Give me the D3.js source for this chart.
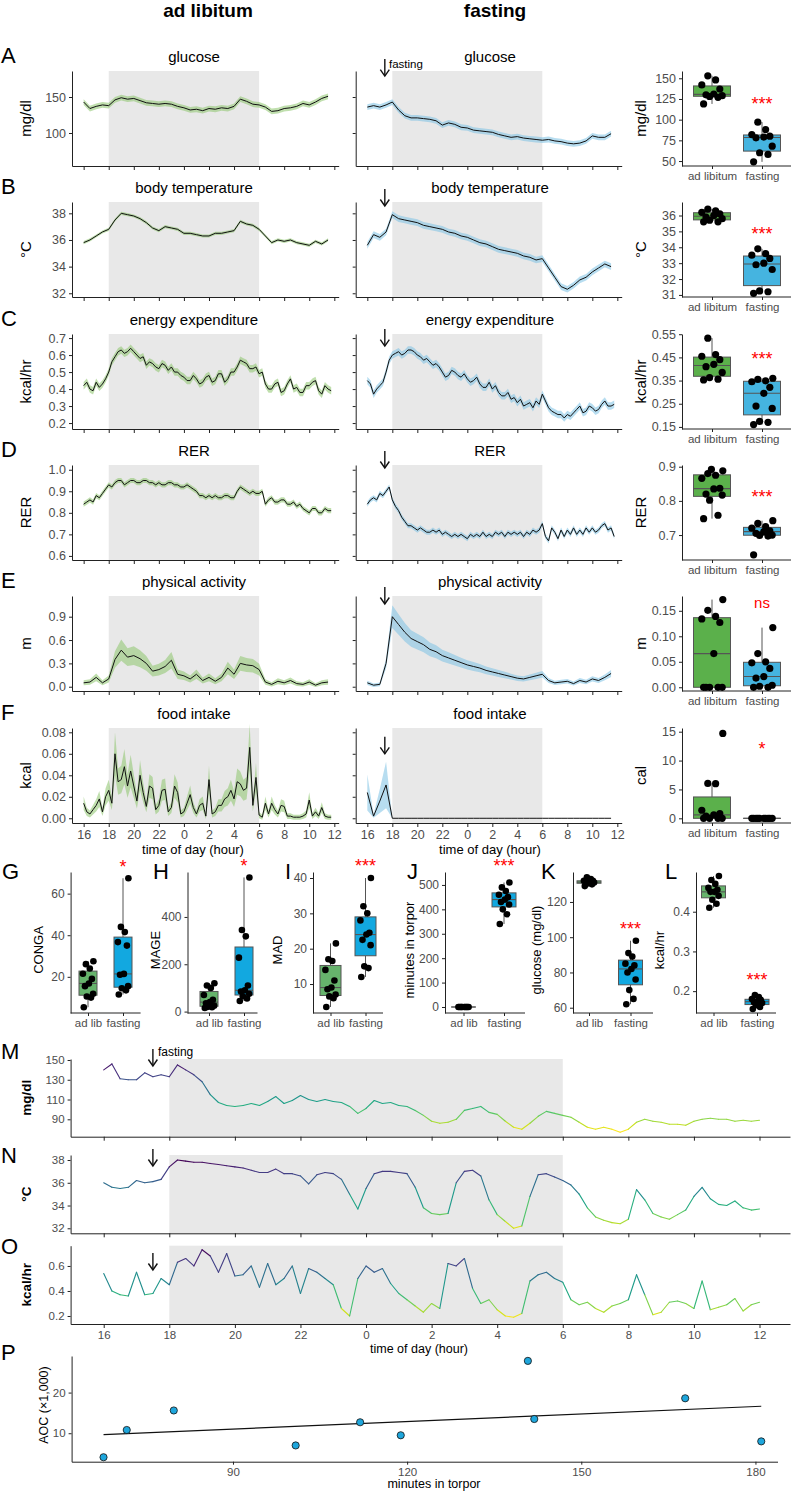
<!DOCTYPE html>
<html>
<head>
<meta charset="utf-8">
<script src="https://cdn.jsdelivr.net/npm/d3@7"></script>
<style>
  body { margin: 0; background: #fff; }
</style>
</head>
<body>
<script>
// ---------- data ----------

// time grids for panels A-F (hours since midnight of day 1)
var hours = d3.range(16, 36, 0.5);     // 40 points, half hour steps
var hoursQ = d3.range(16, 36, 0.25);   // 80 points, quarter hour steps
// time grid for the single animal traces M-O
var hoursFine = d3.range(16, 36.01, 0.25);

// A glucose (mg/dl)
var glucAd = [143,134,137,139,138,146,149,147,148,145,142,141,140,141,140,137,135,132,133,131,
              134,133,135,134,137,147,144,140,139,136,130,131,134,135,137,141,139,143,148,151];
var glucFa = [136,138,136,139,143,132,124,121,121,120,119,117,111,114,112,108,107,104,103,102,
              101,98,96,94,95,93,92,91,90,91,89,88,86,85,86,89,96,94,94,99];
// B body temperature (°C)
var tempAd = [35.8,36.0,36.3,36.6,36.8,37.5,38.0,37.9,37.8,37.6,37.3,36.9,36.7,37.0,36.9,36.8,36.5,36.5,36.4,36.3,
              36.3,36.5,36.5,36.6,36.7,37.4,37.2,37.1,36.8,36.3,35.8,36.0,35.9,36.0,35.8,35.7,35.6,35.9,35.7,36.0];
var tempFa = [35.6,36.4,36.2,36.6,37.9,37.6,37.5,37.4,37.3,37.1,37.0,36.9,36.8,36.6,36.5,36.3,36.2,36.0,35.8,35.7,
              35.5,35.3,35.2,35.1,35.0,34.8,34.7,34.5,34.6,33.9,33.2,32.5,32.3,32.6,33.0,33.2,33.6,33.9,34.2,34.0];
// C energy expenditure (kcal/hr), quarter hours
var eeAd = [0.42,0.44,0.40,0.39, 0.44,0.41,0.43,0.46, 0.50,0.56,0.59,0.62, 0.63,0.61,0.62,0.64, 0.62,0.60,0.58,0.59,
            0.54,0.56,0.55,0.53, 0.52,0.55,0.54,0.51, 0.53,0.50,0.50,0.48, 0.47,0.45,0.45,0.48, 0.46,0.43,0.44,0.47,
            0.48,0.44,0.45,0.49, 0.49,0.44,0.46,0.50, 0.50,0.53,0.57,0.56, 0.55,0.52,0.52,0.53, 0.49,0.50,0.43,0.40,
            0.40,0.43,0.44,0.38, 0.39,0.43,0.46,0.40, 0.41,0.38,0.38,0.42, 0.42,0.44,0.45,0.39, 0.37,0.42,0.40,0.39];
var eeFa = [0.45,0.43,0.37,0.40, 0.42,0.44,0.50,0.57, 0.60,0.61,0.62,0.60, 0.61,0.63,0.63,0.62, 0.60,0.59,0.57,0.58,
            0.56,0.54,0.55,0.53, 0.50,0.47,0.48,0.51, 0.50,0.48,0.47,0.49, 0.46,0.44,0.45,0.47, 0.43,0.41,0.41,0.44,
            0.40,0.42,0.38,0.36, 0.36,0.38,0.34,0.35, 0.32,0.34,0.30,0.31, 0.32,0.29,0.33,0.31, 0.37,0.33,0.29,0.27,
            0.26,0.25,0.25,0.23, 0.25,0.24,0.26,0.28, 0.30,0.26,0.27,0.30, 0.29,0.27,0.28,0.31, 0.33,0.30,0.30,0.31];
// D RER, quarter hours
var rerAd = [0.84,0.85,0.86,0.85, 0.88,0.87,0.89,0.91, 0.93,0.92,0.94,0.95, 0.95,0.93,0.94,0.95, 0.95,0.94,0.94,0.95,
             0.95,0.94,0.94,0.93, 0.94,0.93,0.93,0.94, 0.94,0.93,0.93,0.92, 0.92,0.93,0.92,0.91, 0.90,0.88,0.88,0.87,
             0.88,0.87,0.88,0.87, 0.87,0.88,0.88,0.87, 0.87,0.90,0.92,0.91, 0.90,0.89,0.90,0.89, 0.89,0.90,0.84,0.86,
             0.87,0.85,0.85,0.86, 0.86,0.84,0.84,0.85, 0.83,0.84,0.82,0.81, 0.80,0.82,0.82,0.80, 0.80,0.82,0.81,0.81];
var rerFa = [0.84,0.86,0.87,0.86, 0.89,0.88,0.90,0.92, 0.86,0.83,0.81,0.78, 0.76,0.74,0.74,0.73, 0.72,0.73,0.72,0.71,
             0.71,0.72,0.71,0.72, 0.70,0.71,0.70,0.69, 0.70,0.69,0.70,0.69, 0.68,0.70,0.69,0.70, 0.69,0.71,0.69,0.70,
             0.69,0.71,0.70,0.71, 0.69,0.71,0.70,0.71, 0.70,0.71,0.69,0.71, 0.70,0.72,0.71,0.72, 0.75,0.69,0.67,0.73,
             0.71,0.68,0.72,0.69, 0.72,0.70,0.73,0.70, 0.72,0.70,0.73,0.71, 0.73,0.71,0.72,0.74, 0.75,0.72,0.73,0.69];
// E physical activity (m)
var actAd = [0.05,0.06,0.12,0.05,0.10,0.35,0.47,0.38,0.40,0.36,0.30,0.20,0.22,0.26,0.34,0.16,0.14,0.10,0.16,0.08,
             0.12,0.07,0.12,0.24,0.16,0.30,0.28,0.27,0.22,0.06,0.03,0.07,0.05,0.08,0.04,0.03,0.06,0.02,0.05,0.06];
var actFa = [0.05,0.02,0.03,0.30,0.90,0.80,0.70,0.62,0.58,0.54,0.48,0.45,0.40,0.37,0.34,0.31,0.28,0.26,0.24,0.21,
             0.19,0.17,0.15,0.13,0.11,0.10,0.12,0.14,0.16,0.08,0.05,0.06,0.07,0.04,0.08,0.06,0.10,0.08,0.12,0.17];
// F food intake (kcal), ad libitum in quarter hours
var foodAd = [0.014,0.006,0.004,0.008, 0.012,0.018,0.006,0.020, 0.026,0.014,0.060,0.034, 0.036,0.048,0.030,0.044,
              0.030,0.016,0.040,0.024, 0.011,0.030,0.028,0.008, 0.012,0.026,0.027,0.006, 0.010,0.030,0.024,0.004,
              0.006,0.014,0.022,0.010, 0.004,0.012,0.014,0.002, 0.036,0.004,0.006,0.012, 0.012,0.018,0.020,0.026,
              0.018,0.034,0.032,0.026, 0.028,0.066,0.012,0.038, 0.003,0.001,0.014,0.004, 0.014,0.008,0.004,0.012,
              0.011,0.002,0.002,0.001, 0.001,0.001,0.002,0.004, 0.017,0.002,0.006,0.002, 0.010,0.002,0.001,0.001];
var foodFa = [0.024,0.002,0.016,0.031,0,0,0,0,0,0,0,0,0,0,0,0,0,0,0,0,
              0,0,0,0,0,0,0,0,0,0,0,0,0,0,0,0,0,0,0,0];

// right column box plots (per animal averages)
var boxGlucAd = [119,127,128,129,130,131,137,142,148,153];
var boxGlucFa = [49,58,60,68,78,79,80,82,88,97];
var boxTempAd = [35.6,35.6,35.7,35.8,35.9,36.0,36.1,36.2,36.3,36.4];
var boxTempFa = [31.1,31.2,31.25,32.6,32.9,33.0,33.3,33.5,33.6,33.9];
var boxEeAd = [0.353,0.356,0.363,0.385,0.41,0.42,0.44,0.455,0.462,0.533];
var boxEeFa = [0.16,0.17,0.174,0.23,0.24,0.295,0.321,0.345,0.349,0.355,0.36];
var boxRerAd = [0.748,0.758,0.802,0.817,0.82,0.835,0.837,0.866,0.875,0.88,0.888,0.892];
var boxRerFa = [0.642,0.697,0.699,0.70,0.705,0.71,0.712,0.72,0.725,0.734,0.742];
var boxActAd = [0,0,0,0,0,0.066,0.127,0.134,0.139,0.151,0.172];
var boxActFa = [0,0,0.002,0.004,0.018,0.021,0.037,0.048,0.05,0.066,0.117];
var boxFoodAd = [0,0,0,0,0.4,0.6,0.8,1.4,6.0,6.05,14.7];
var boxFoodFa = [0,0,0,0,0,0,0,0,0,0];

// G-L summary box plots
var congaAd = [5.4,10.0,10.5,11.8,15.5,16.8,19.0,21.5,24.0,26.1,27.5];
var congaFa = [11.5,13.5,14.5,15.5,21.0,21.4,35.0,36.7,41.5,44.0,67.4];
var mageAd = [15,18,20,25,35,40,50,70,100,110,120];
var mageFa = [45,55,65,75,85,90,110,228,318,345,567];
var madAd = [3.5,6,6.5,7,8.5,9,11,14,16.5,17,21.5];
var madFa = [12,14.5,15,21,22.5,24,24.5,28,30,32,40];
var torpAd = [0,0,0,0,0,0,0,0,0,0];
var torpFa = [340,380,400,420,430,440,450,460,475,490,510];
var glucMeanAd = [129,130,130.5,131,131,131.5,132,132,133,134];
var glucMeanFa = [62,65,70,76,80,82,84,85,89,91,98];
var eeMeanAd = [0.41,0.42,0.43,0.44,0.45,0.45,0.455,0.46,0.47,0.48,0.49];
var eeMeanFa = [0.155,0.16,0.165,0.17,0.172,0.175,0.178,0.18,0.185,0.19];

// M-O single fasted animal
var traceGluc = [140,146,131,130, 130,137,133,135, 133,145,140,135, 128,115,107,104, 103,104,106,104,
                 108,113,106,109, 114,110,108,110, 108,107,103,96, 101,109,106,107, 104,103,99,94,
                 88,86,87,90, 99,101,103,97, 95,88,82,80, 86,93,98,96, 94,92,87,82,
                 80,82,80,77, 80,87,90,88, 87,85,85,84, 88,90,91,90, 90,88,89,88, 89];
var traceTemp = [36.0,35.6,35.5,35.6, 36.2,36.0,36.1,36.3, 37.4,38.0,37.9,37.8, 37.8,37.7,37.6,37.5, 37.4,37.3,37.1,36.9,
                 36.9,37.2,36.8,36.8, 36.6,35.9,36.7,36.9, 36.8,36.3,35.0,33.7, 35.5,36.8,37.0,37.0, 36.9,36.8,35.6,33.8,
                 33.3,33.2,33.3,36.0, 37.0,37.1,36.6,34.5, 33.2,32.6,32.0,32.2, 34.8,36.7,36.8,36.5, 36.2,35.8,35.0,33.8,
                 33.0,32.7,32.5,32.4, 32.8,35.4,34.5,33.3, 33.0,32.8,33.2,33.6, 34.8,35.6,34.6,34.1, 34.0,34.4,33.8,33.6, 33.7];
var traceEe = [0.54,0.40,0.37,0.36, 0.55,0.37,0.38,0.50, 0.45,0.63,0.66,0.60, 0.73,0.68,0.55,0.70, 0.52,0.53,0.60,0.43,
               0.62,0.45,0.50,0.60, 0.38,0.58,0.55,0.50, 0.45,0.26,0.20,0.50, 0.60,0.55,0.58,0.46, 0.38,0.33,0.28,0.23,
               0.30,0.26,0.62,0.60, 0.66,0.42,0.30,0.33, 0.25,0.20,0.19,0.22, 0.48,0.53,0.55,0.50, 0.47,0.33,0.29,0.31,
               0.26,0.23,0.28,0.30, 0.33,0.53,0.37,0.21, 0.23,0.31,0.32,0.30, 0.26,0.48,0.25,0.27, 0.29,0.34,0.24,0.29, 0.31];

// P torpor duration vs area of the curve
var torporMin = [67.7,71.7,79.8,100.8,111.9,118.9,140.8,141.9,167.9,181.0];
var aocK = [4.1,10.8,15.6,7.0,12.7,9.5,27.8,13.5,18.6,8.0];

// ---------- layout ----------

var svg = d3.select("body").append("svg")
  .attr("width", 792).attr("height", 1492)
  .style("font-family", "'Liberation Sans', Arial, Helvetica, sans-serif");
var NARROW = "'Liberation Sans Narrow', 'Liberation Sans', Arial, sans-serif";

var AXIS = "#222";
var TICKTXT = "#4d4d4d";
var SHADE = "#e8e8e8";
var GREEN = "#5bb04b", BLUE = "#45b4e0";
var GREEN2 = "#66b36c", BLUE2 = "#12a8e0";
var JIT = [-0.7, 0.5, -0.2, 0.85, -0.5, 0.15, 0.65, -0.85, 0.3, -0.35, 0.9, -0.05];

var rowTop = [71, 202, 334, 465, 596, 728];
var rowH = 95;
var smallTop = 872, smallBottom = 1013;

var xAd = d3.scaleLinear().domain([15.07, 36.35]).range([72, 338.7]);
var xFa = d3.scaleLinear().domain([15.07, 36.35]).range([355.7, 621.7]);

var panels = [
  {letter: "A", title: "glucose", ylab: "mg/dl", ad: glucAd, fa: glucFa, dom: [54.2, 186.1], ticks: [100, 150], fmt: "d",
   seAd: [4, 0], seFa: [4, 0], arrow: 179,
   box: {ad: boxGlucAd, fa: boxGlucFa, dom: [44, 158.8], ticks: [50, 75, 100, 125, 150], fmt: "d", ylab: "mg/dl", star: "***", starVal: 122.5}},
  {letter: "B", title: "body temperature", ylab: "°C", ad: tempAd, fa: tempFa, dom: [31.72, 38.85], ticks: [32, 34, 36, 38], fmt: "d",
   seAd: [0.12, 0], seFa: [0.25, 0], arrow: 38.55,
   box: {ad: boxTempAd, fa: boxTempFa, dom: [30.87, 36.85], ticks: [31, 32, 33, 34, 35, 36], fmt: "d", ylab: "°C", star: "***", starVal: 35.0}},
  {letter: "C", title: "energy expenditure", ylab: "kcal/hr", ad: eeAd, fa: eeFa, dom: [0.165, 0.724], ticks: [0.2, 0.3, 0.4, 0.5, 0.6, 0.7], fmt: ".1f",
   seAd: [0.022, 0], seFa: [0.022, 0], arrow: 0.653,
   box: {ad: boxEeAd, fa: boxEeFa, dom: [0.141, 0.551], ticks: [0.15, 0.25, 0.35, 0.45, 0.55], fmt: ".2f", ylab: "kcal/hr", star: "***", starVal: 0.456}},
  {letter: "D", title: "RER", ylab: "RER", ad: rerAd, fa: rerFa, dom: [0.581, 1.022], ticks: [0.6, 0.7, 0.8, 0.9, 1.0], fmt: ".1f",
   seAd: [0.012, 0], seFa: [0.012, 0], arrow: 1.008,
   box: {ad: boxRerAd, fa: boxRerFa, dom: [0.627, 0.905], ticks: [0.7, 0.8, 0.9], fmt: ".1f", ylab: "RER", star: "***", starVal: 0.82}},
  {letter: "E", title: "physical activity", ylab: "m", ad: actAd, fa: actFa, dom: [-0.055, 1.166], ticks: [0, 0.3, 0.6, 0.9], fmt: ".1f",
   seAd: [0.02, 0.25], seFa: [0.02, 0.14], arrow: 1.063,
   box: {ad: boxActAd, fa: boxActFa, dom: [-0.0073, 0.179], ticks: [0, 0.05, 0.10, 0.15], fmt: ".2f", ylab: "m", star: "ns", starVal: 0.165}},
  {letter: "F", title: "food intake", ylab: "kcal", ad: foodAd, fa: foodFa, dom: [-0.0044, 0.084], ticks: [0, 0.02, 0.04, 0.06, 0.08], fmt: ".2f",
   seAd: [0.002, 0.3], seFa: [0, 0.7], arrow: 0.060,
   box: {ad: boxFoodAd, fa: boxFoodFa, dom: [-0.81, 15.64], ticks: [0, 5, 10, 15], fmt: "d", ylab: "cal", star: "*", starVal: 12.4}}
];

var small = [
  {letter: "G", lx: 2, x0: 70.6, c: [88, 123], w: 70, bw: 18, ylab: "CONGA", labx: 43, ad: congaAd, fa: congaFa,
   dom: [2.6, 70.4], ticks: [20, 40, 60], fmt: "d", star: "*", starVal: 74.2},
  {letter: "H", lx: 153, x0: 187.5, c: [209, 244], w: 70, bw: 18, ylab: "MAGE", labx: 160, ad: mageAd, fa: mageFa,
   dom: [-6, 590], ticks: [0, 200, 400], fmt: "d", star: "*", starVal: 624},
  {letter: "I", lx: 285, x0: 313, c: [330.5, 365.5], w: 70, bw: 21, ylab: "MAD", labx: 282, ad: madAd, fa: madFa,
   dom: [1.8, 41.7], ticks: [10, 20, 30, 40], fmt: "d", star: "***", starVal: 44.0},
  {letter: "J", lx: 407, x0: 445, c: [463.5, 504], w: 80, bw: 24, ylab: "minutes in torpor", labx: 414, ad: torpAd, fa: torpFa,
   dom: [-24.6, 553], ticks: [0, 100, 200, 300, 400, 500], fmt: "d", star: "***", starVal: 586},
  {letter: "K", lx: 541, x0: 573, c: [589, 630.5], w: 80, bw: 24, ylab: "glucose (mg/dl)", labx: 541, ad: glucMeanAd, fa: glucMeanFa,
   dom: [57, 137], ticks: [60, 80, 100, 120], fmt: "d", star: "***", starVal: 106},
  {letter: "L", lx: 665, x0: 696, c: [713.5, 757], w: 80, bw: 24, ylab: "kcal/hr", labx: 664, ad: eeMeanAd, fa: eeMeanFa,
   dom: [0.145, 0.50], ticks: [0.2, 0.3, 0.4], fmt: ".1f", star: "***", starVal: 0.235}
];

// ---------- helpers ----------

function txt(x, y, s, o) {
  var t = svg.append("text").attr("x", x).attr("y", y).text(s);
  for (var k in o) t.attr(k, o[k]);
  return t;
}

function vtxt(x, y, s, o) {
  var t = svg.append("text").attr("transform", "translate(" + x + "," + y + ") rotate(-90)")
    .attr("text-anchor", "middle").text(s);
  for (var k in o) t.attr(k, o[k]);
  return t;
}

function styleAxis(g, fs, fam) {
  g.attr("font-family", null).attr("font-size", null);
  g.select(".domain").attr("stroke", AXIS).attr("stroke-width", 1);
  g.selectAll(".tick line").attr("stroke", AXIS);
  g.selectAll(".tick text").attr("fill", TICKTXT).attr("font-size", fs);
  if (fam) g.selectAll(".tick text").attr("font-family", fam);
}

function arrow(x, tip) {
  svg.append("line").attr("x1", x).attr("x2", x).attr("y1", tip - 17).attr("y2", tip)
    .attr("stroke", "#111").attr("stroke-width", 1.4);
  svg.append("path")
    .attr("d", "M" + (x - 4.5) + "," + (tip - 6.5) + "L" + x + "," + tip + "L" + (x + 4.5) + "," + (tip - 6.5))
    .attr("fill", "none").attr("stroke", "#111").attr("stroke-width", 1.4);
}

function timePanel(xs, top, p, vals, se, band, showY, showX) {
  var y = d3.scaleLinear().domain(p.dom).range([top + rowH, top]);
  var grid = vals.length === hoursQ.length ? hoursQ : hours;

  // night shading 18:00 - 06:00
  svg.append("rect").attr("x", xs(18)).attr("y", top)
    .attr("width", xs(30) - xs(18)).attr("height", rowH).attr("fill", SHADE);

  var half = function(d) { return se[0] + se[1] * d; };
  var area = d3.area()
    .x(function(d, i) { return xs(grid[i]); })
    .y0(function(d) { return y(d - half(d)); })
    .y1(function(d) { return y(d + half(d)); });
  svg.append("path").datum(vals).attr("d", area).attr("fill", band).attr("opacity", 0.55);

  var line = d3.line()
    .x(function(d, i) { return xs(grid[i]); })
    .y(function(d) { return y(d); });
  svg.append("path").datum(vals).attr("d", line)
    .attr("fill", "none").attr("stroke", "#111").attr("stroke-width", 1);

  var ya = svg.append("g").attr("transform", "translate(" + xs.range()[0] + ",0)")
    .call(d3.axisLeft(y).tickValues(p.ticks)
      .tickFormat(showY ? d3.format(p.fmt) : "").tickSize(3).tickSizeOuter(0));
  styleAxis(ya, 12.5);

  var xa = svg.append("g").attr("transform", "translate(0," + (top + rowH) + ")")
    .call(d3.axisBottom(xs).tickValues(d3.range(16, 37, 2))
      .tickFormat(showX ? function(d) { return d % 24; } : "").tickSize(4).tickSizeOuter(0));
  styleAxis(xa, 12.5);
  return y;
}

function boxPanel(o) {
  var y = d3.scaleLinear().domain(o.dom).range([o.bottom, o.top]);
  var x = d3.scalePoint().domain(o.cats).range(o.pos);

  var ya = svg.append("g").attr("transform", "translate(" + o.x0 + ",0)")
    .call(d3.axisLeft(y).tickValues(o.ticks).tickFormat(d3.format(o.fmt)).tickSize(3).tickSizeOuter(0));
  styleAxis(ya, o.fs);

  var xa = svg.append("g").attr("transform", "translate(0," + o.bottom + ")")
    .call(d3.axisBottom(x).tickSize(3).tickSizeOuter(0));
  xa.select(".domain").remove();
  styleAxis(xa, o.xfs);
  svg.append("line").attr("x1", o.x0).attr("x2", o.x1).attr("y1", o.bottom).attr("y2", o.bottom)
    .attr("stroke", AXIS).attr("stroke-width", 1);

  o.groups.forEach(function(vals, gi) {
    var s = vals.slice().sort(d3.ascending);
    var q1 = d3.quantile(s, 0.25), q2 = d3.quantile(s, 0.5), q3 = d3.quantile(s, 0.75);
    var iqr = q3 - q1;
    var lo = d3.min(s.filter(function(v) { return v >= q1 - 1.5 * iqr; }));
    var hi = d3.max(s.filter(function(v) { return v <= q3 + 1.5 * iqr; }));
    var cx = x(o.cats[gi]);

    svg.append("line").attr("x1", cx).attr("x2", cx).attr("y1", y(hi)).attr("y2", y(q3))
      .attr("stroke", "#555").attr("stroke-width", 1);
    svg.append("line").attr("x1", cx).attr("x2", cx).attr("y1", y(q1)).attr("y2", y(lo))
      .attr("stroke", "#555").attr("stroke-width", 1);
    svg.append("rect").attr("x", cx - o.bw / 2).attr("width", o.bw)
      .attr("y", y(q3)).attr("height", Math.max(0.01, y(q1) - y(q3)))
      .attr("fill", o.fills[gi]).attr("stroke", "#555").attr("stroke-width", 1);
    svg.append("line").attr("x1", cx - o.bw / 2).attr("x2", cx + o.bw / 2)
      .attr("y1", y(q2)).attr("y2", y(q2)).attr("stroke", "#555").attr("stroke-width", 1.1);

    svg.selectAll(null).data(vals).enter().append("circle")
      .attr("cx", function(d, i) { return cx + JIT[i % JIT.length] * o.jw; })
      .attr("cy", function(d) { return y(d); })
      .attr("r", o.r).attr("fill", "#000");
  });

  if (o.star) {
    var fs = o.star === "ns" ? 15 : 18;
    txt(x(o.cats[1]), y(o.starVal) + (o.star === "ns" ? 5 : 8.5), o.star,
      {"text-anchor": "middle", "fill": "#ff0000", "font-size": fs});
  }
  return y;
}

function tracePanel(o) {
  var y = d3.scaleLinear().domain(o.dom).range([o.bottom, o.top]);
  svg.append("rect").attr("x", xM(18)).attr("y", o.top)
    .attr("width", xM(30) - xM(18)).attr("height", o.bottom - o.top).attr("fill", SHADE);

  var col = d3.scaleSequential(function(t) { return d3.interpolateViridis(1 - t); })
    .domain(o.cdom).clamp(true);
  for (var i = 0; i < o.vals.length - 1; i++) {
    svg.append("line")
      .attr("x1", xM(hoursFine[i])).attr("y1", y(o.vals[i]))
      .attr("x2", xM(hoursFine[i + 1])).attr("y2", y(o.vals[i + 1]))
      .attr("stroke", col((o.vals[i] + o.vals[i + 1]) / 2))
      .attr("stroke-width", 1.1).attr("stroke-linecap", "round");
  }

  var ya = svg.append("g").attr("transform", "translate(" + xM.range()[0] + ",0)")
    .call(d3.axisLeft(y).tickValues(o.ticks).tickFormat(d3.format(o.fmt)).tickSize(3).tickSizeOuter(0));
  styleAxis(ya, 11.5, NARROW);

  var xa = svg.append("g").attr("transform", "translate(0," + o.bottom + ")")
    .call(d3.axisBottom(xM).tickValues(d3.range(16, 37, 2))
      .tickFormat(o.showX ? function(d) { return d % 24; } : "").tickSize(4).tickSizeOuter(0));
  styleAxis(xa, 11.5, NARROW);

  vtxt(31, (o.top + o.bottom) / 2, o.ylab, {"font-size": 13.5, "font-family": NARROW, "font-weight": "bold"});
  txt(1, o.letterY, o.letter, {"font-size": 22});
  arrow(xM(17.5), o.arrowTip);
  return y;
}

// ---------- column headers ----------

txt(208, 17, "ad libitum", {"text-anchor": "middle", "font-size": 19, "font-weight": "bold"});
txt(495, 17, "fasting", {"text-anchor": "middle", "font-size": 19, "font-weight": "bold"});

// ---------- rows A-F ----------

panels.forEach(function(p, r) {
  var top = rowTop[r];
  var last = (r === panels.length - 1);

  txt(1, top - 8, p.letter, {"font-size": 22});
  txt(194, top - 9, p.title, {"text-anchor": "middle", "font-size": 15});
  txt(490, top - 9, p.title, {"text-anchor": "middle", "font-size": 15});
  vtxt(31, top + rowH / 2, p.ylab, {"font-size": 15});

  timePanel(xAd, top, p, p.ad, p.seAd, "#8cc46c", true, last);
  var yF = timePanel(xFa, top, p, p.fa, p.seFa, "#7cc1e4", false, last);
  arrow(xFa(17.4), yF(p.arrow));

  boxPanel({
    top: top, bottom: top + rowH, x0: 682, x1: 791, dom: p.box.dom, ticks: p.box.ticks, fmt: p.box.fmt,
    cats: ["ad libitum", "fasting"], pos: [712, 762], groups: [p.box.ad, p.box.fa],
    fills: [GREEN, BLUE], bw: 37, jw: 12, r: 3.6, fs: 12.5, xfs: 11.5,
    star: p.box.star, starVal: p.box.starVal
  });
  vtxt(646, top + rowH / 2, p.box.ylab, {"font-size": 15});
});

txt(389, 68, "fasting", {"font-size": 11.5});
txt(193, 854, "time of day (hour)", {"text-anchor": "middle", "font-size": 13});
txt(490, 854, "time of day (hour)", {"text-anchor": "middle", "font-size": 13});

// ---------- rows G-L ----------

small.forEach(function(s) {
  txt(s.lx, 879, s.letter, {"font-size": 22});
  boxPanel({
    top: smallTop, bottom: smallBottom, x0: s.x0, x1: s.x0 + s.w, dom: s.dom, ticks: s.ticks, fmt: s.fmt,
    cats: ["ad lib", "fasting"], pos: s.c, groups: [s.ad, s.fa],
    fills: [GREEN2, BLUE2], bw: s.bw, jw: 6, r: 3.3, fs: 12, xfs: 11.5,
    star: s.star, starVal: s.starVal
  });
  vtxt(s.labx, 950, s.ylab, {"font-size": 13});
});

// ---------- rows M-O ----------

var xM = d3.scaleLinear().domain([14.99, 36.93]).range([70.6, 790]);

tracePanel({letter: "M", letterY: 1059, top: 1059, bottom: 1136.7, dom: [72.4, 151], vals: traceGluc,
  cdom: [78, 148], ticks: [90, 110, 130, 150], fmt: "d", ylab: "mg/dl", arrowTip: 1066, showX: false});
txt(xM(17.5) + 5, 1056, "fasting", {"font-size": 12, "font-family": NARROW});

tracePanel({letter: "N", letterY: 1163, top: 1155, bottom: 1233.3, dom: [31.56, 38.44], vals: traceTemp,
  cdom: [31.8, 38.0], ticks: [32, 34, 36, 38], fmt: "d", ylab: "°C", arrowTip: 1166, showX: false});

tracePanel({letter: "O", letterY: 1254, top: 1245.7, bottom: 1324, dom: [0.136, 0.762], vals: traceEe,
  cdom: [0.19, 0.72], ticks: [0.2, 0.4, 0.6], fmt: ".1f", ylab: "kcal/hr", arrowTip: 1270, showX: true});

txt(419, 1353, "time of day (hour)", {"text-anchor": "middle", "font-size": 12.5, "font-family": NARROW});

// ---------- row P ----------

var xP = d3.scaleLinear().domain([62.2, 183.8]).range([71.6, 777.5]);
var yP = d3.scaleLinear().domain([3.0, 29.0]).range([1461.7, 1356]);

var pxa = svg.append("g").attr("transform", "translate(0,1461.7)")
  .call(d3.axisBottom(xP).tickValues([90, 120, 150, 180]).tickSize(3).tickSizeOuter(0));
styleAxis(pxa, 11.5, NARROW);
var pya = svg.append("g").attr("transform", "translate(71.6,0)")
  .call(d3.axisLeft(yP).tickValues([10, 20]).tickSize(3).tickSizeOuter(0));
styleAxis(pya, 11.5, NARROW);

// least squares fit
var mx = d3.mean(torporMin), my = d3.mean(aocK);
var sxy = d3.sum(torporMin, function(v, i) { return (v - mx) * (aocK[i] - my); });
var sxx = d3.sum(torporMin, function(v) { return (v - mx) * (v - mx); });
var slope = sxy / sxx, icpt = my - slope * mx;
var xr = d3.extent(torporMin);
svg.append("line")
  .attr("x1", xP(xr[0])).attr("y1", yP(icpt + slope * xr[0]))
  .attr("x2", xP(xr[1])).attr("y2", yP(icpt + slope * xr[1]))
  .attr("stroke", "#111").attr("stroke-width", 1.2);

svg.selectAll(null).data(torporMin).enter().append("circle")
  .attr("cx", function(d) { return xP(d); })
  .attr("cy", function(d, i) { return yP(aocK[i]); })
  .attr("r", 3.6).attr("fill", "#1ea6dc").attr("stroke", "#111").attr("stroke-width", 0.8);

txt(1, 1360, "P", {"font-size": 22});
vtxt(48, 1405, "AOC (\u00d71,000)", {"font-size": 12.5, "font-family": NARROW});
txt(434, 1488, "minutes in torpor", {"text-anchor": "middle", "font-size": 12.5, "font-family": NARROW});
</script>
</body>
</html>
